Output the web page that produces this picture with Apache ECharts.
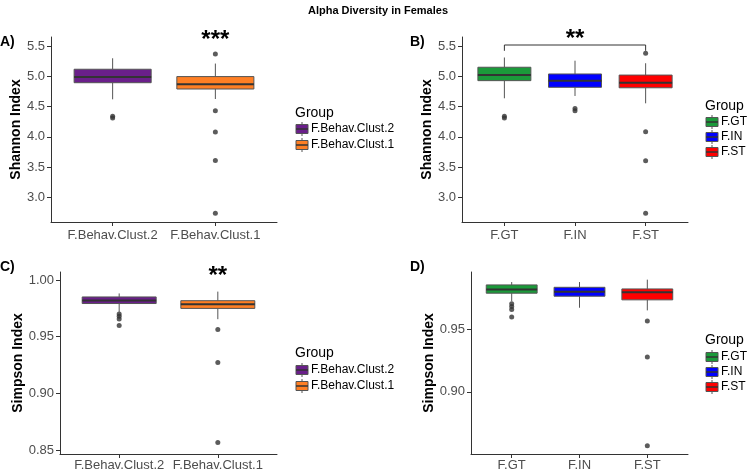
<!DOCTYPE html>
<html>
<head>
<meta charset="utf-8">
<script src="https://cdn.jsdelivr.net/npm/echarts@6/dist/echarts.min.js"></script>
<style>
  html, body { margin: 0; padding: 0; background: #fff; }
  #main { width: 750px; height: 472px; }
</style>
</head>
<body>
<div id="main"></div>
<script>
const chartTitle = 'Alpha Diversity in Females';
const clustGroups = ['F.Behav.Clust.2', 'F.Behav.Clust.1'];
const siteGroups = ['F.GT', 'F.IN', 'F.ST'];
const clustColors = ['#6a1f8a', '#ff7f24'];
const siteColors = ['#1b9a3a', '#0000ff', '#ff0000'];

// box stats: [lower whisker, Q1, median, Q3, upper whisker]
const shannonClustBox = [
  [4.62, 4.894, 4.99, 5.116, 5.297],
  [4.625, 4.79, 4.87, 4.995, 5.21]
];
const shannonClustOutliers = [
  [4.34, 4.31],
  [5.368, 4.43, 4.08, 3.61, 2.74]
];
const shannonSiteBox = [
  [4.637, 4.928, 5.02, 5.149, 5.31],
  [4.675, 4.818, 4.928, 5.038, 5.257],
  [4.554, 4.81, 4.894, 5.02, 5.215]
];
const shannonSiteOutliers = [
  [4.34, 4.31],
  [4.47, 4.43],
  [5.38, 4.086, 3.607, 2.74]
];
const simpsonClustBox = [
  [0.972, 0.9793, 0.982, 0.9851, 0.9882],
  [0.9655, 0.975, 0.9786, 0.9818, 0.9898]
];
const simpsonClustOutliers = [
  [0.970, 0.968, 0.9657, 0.960],
  [0.9565, 0.9274, 0.8567]
];
const simpsonSiteBox = [
  [0.9723, 0.9787, 0.9816, 0.9853, 0.9876],
  [0.9671, 0.9763, 0.9798, 0.9834, 0.9876],
  [0.965, 0.9734, 0.9795, 0.9821, 0.9895]
];
const simpsonSiteOutliers = [
  [0.9703, 0.968, 0.9658, 0.9597],
  [],
  [0.9566, 0.9279, 0.8571]
];

const shannonTicks = [3.0, 3.5, 4.0, 4.5, 5.0, 5.5];
const simpsonClustTicks = [0.85, 0.90, 0.95, 1.00];
const simpsonSiteTicks = [0.90, 0.95];

const FONT = '"Liberation Sans", Arial, sans-serif';
const AXIS_COLOR = '#333';

let chart = echarts.init(document.getElementById('main'));

function boxRender(colors) {
  return function (params, api) {
    const x = api.value(0);
    const half = api.size([0.75, 0])[0] / 2;
    const lo = api.coord([x, api.value(1)]);
    const q1 = api.coord([x, api.value(2)]);
    const med = api.coord([x, api.value(3)]);
    const q3 = api.coord([x, api.value(4)]);
    const hi = api.coord([x, api.value(5)]);
    const stroke = {stroke: '#555', lineWidth: 1};
    return {
      type: 'group',
      children: [
        {type: 'line', shape: {x1: hi[0], y1: hi[1], x2: q3[0], y2: q3[1]}, style: stroke},
        {type: 'line', shape: {x1: q1[0], y1: q1[1], x2: lo[0], y2: lo[1]}, style: stroke},
        {type: 'rect', shape: {x: q3[0] - half, y: q3[1], width: half * 2, height: q1[1] - q3[1]},
          style: {fill: colors[params.dataIndex], stroke: '#555', lineWidth: 1}},
        {type: 'line', shape: {x1: med[0] - half, y1: med[1], x2: med[0] + half, y2: med[1]},
          style: {stroke: '#333', lineWidth: 2}}
      ]
    };
  };
}

function annotRender(labels) {
  return function (params, api) {
    const x1 = api.value(0), x2 = api.value(1), yb = api.value(2), yt = api.value(3);
    const children = [];
    const mid = api.coord([(x1 + x2) / 2, yt]);
    if (x1 !== x2) {
      const a = api.coord([x1, yb]);
      const b = api.coord([x2, yb]);
      const top = api.coord([x1, api.value(4)]);
      children.push({type: 'polyline', shape: {points: [[a[0], a[1]], [a[0], top[1]], [b[0], top[1]], [b[0], b[1]]]},
        style: {stroke: '#333', lineWidth: 1, fill: null}});
    }
    children.push({type: 'text', style: {text: labels[params.dataIndex], x: mid[0], y: mid[1],
      align: 'center', verticalAlign: 'middle', font: 'bold 24px ' + FONT, fill: '#000'}});
    return {type: 'group', children: children};
  };
}

const grids = [];
const xAxes = [];
const yAxes = [];
const series = [];

function addPanel(rect, cats, boxes, outliers, colors, yMin, yMax, ticks, digits, name, nameGap, labelGap, annots) {
  const i = grids.length;
  grids.push({left: rect[0], top: rect[1], width: rect[2] - rect[0], height: rect[3] - rect[1]});
  const pos = cats.map((c, k) => k + 1);
  xAxes.push({
    gridIndex: i, type: 'value', min: 0.4, max: cats.length + 0.6,
    axisLine: {show: true, lineStyle: {color: AXIS_COLOR, width: 1}},
    axisTick: {show: true, customValues: pos, length: 4, lineStyle: {color: AXIS_COLOR}},
    axisLabel: {customValues: pos, formatter: v => cats[Math.round(v) - 1], color: '#4d4d4d',
      fontSize: 13, fontFamily: FONT, margin: labelGap},
    splitLine: {show: false}
  });
  yAxes.push({
    gridIndex: i, type: 'value', min: yMin, max: yMax,
    name: name, nameLocation: 'middle', nameGap: nameGap,
    nameTextStyle: {fontWeight: 'bold', fontSize: 14, color: '#000', fontFamily: FONT},
    axisLine: {show: true, lineStyle: {color: AXIS_COLOR, width: 1}},
    axisTick: {show: true, customValues: ticks, length: 4, lineStyle: {color: AXIS_COLOR}},
    axisLabel: {customValues: ticks, formatter: v => v.toFixed(digits), color: '#4d4d4d',
      fontSize: 13, fontFamily: FONT, margin: 6},
    splitLine: {show: false}
  });
  series.push({
    type: 'custom', xAxisIndex: i, yAxisIndex: i,
    renderItem: boxRender(colors),
    data: boxes.map((b, k) => [k + 1].concat(b))
  });
  const pts = [];
  outliers.forEach((arr, k) => arr.forEach(v => pts.push([k + 1, v])));
  series.push({
    type: 'scatter', xAxisIndex: i, yAxisIndex: i, symbolSize: 5,
    itemStyle: {color: '#333'}, data: pts, z: 5
  });
  if (annots) {
    series.push({
      type: 'custom', xAxisIndex: i, yAxisIndex: i, clip: false,
      renderItem: annotRender(annots.map(a => a.label)),
      data: annots.map(a => a.value)
    });
  }
}

// annotations: [x1, x2, bracket foot, text y, bracket top]
const annotA = [{value: [2, 2, 0, 5.6, 0], label: '***'}];
const annotB = [{value: [1, 3, 5.42, 5.61, 5.516], label: '**'}];
const annotC = [{value: [2, 2, 0, 1.0035, 0], label: '**'}];

addPanel([51, 37, 277, 222], clustGroups, shannonClustBox, shannonClustOutliers, clustColors,
  2.596, 5.648, shannonTicks, 1, 'Shannon Index', 27, 7, annotA);
addPanel([462, 37, 688, 222], siteGroups, shannonSiteBox, shannonSiteOutliers, siteColors,
  2.596, 5.648, shannonTicks, 1, 'Shannon Index', 27, 7, annotB);
addPanel([60, 272, 277, 459], clustGroups, simpsonClustBox, simpsonClustOutliers, clustColors,
  0.8466, 1.0071, simpsonClustTicks, 2, 'Simpson Index', 35, 5, annotC);
addPanel([471, 272, 688, 456], siteGroups, simpsonSiteBox, simpsonSiteOutliers, siteColors,
  0.8505, 0.9956, simpsonSiteTicks, 2, 'Simpson Index', 35, 5, null);

function legendGraphic(x, yTitle, yItems, names, colors) {
  const els = [{type: 'text', style: {text: 'Group', x: x, y: yTitle, verticalAlign: 'middle',
    font: '14px ' + FONT, fill: '#000'}}];
  names.forEach((n, k) => {
    const y = yItems[k];
    els.push({type: 'line', shape: {x1: x + 7, y1: y - 7, x2: x + 7, y2: y + 7}, style: {stroke: '#555', lineWidth: 1}});
    els.push({type: 'rect', shape: {x: x + 1, y: y - 4.5, width: 12, height: 9},
      style: {fill: colors[k], stroke: '#555', lineWidth: 1}});
    els.push({type: 'line', shape: {x1: x + 1, y1: y, x2: x + 13, y2: y}, style: {stroke: '#333', lineWidth: 1.5}});
    els.push({type: 'text', style: {text: n, x: x + 16, y: y, verticalAlign: 'middle',
      font: '12px ' + FONT, fill: '#000'}});
  });
  return els;
}

function panelLabel(t, x, y) {
  return {type: 'text', style: {text: t, x: x, y: y, verticalAlign: 'middle',
    font: 'bold 14px ' + FONT, fill: '#000'}};
}

const graphics = [].concat(
  legendGraphic(295, 113, [129, 145], clustGroups, clustColors),
  legendGraphic(705, 106, [122, 137, 152], siteGroups, siteColors),
  legendGraphic(295, 353, [370, 386], clustGroups, clustColors),
  legendGraphic(705, 340, [357, 372, 387], siteGroups, siteColors),
  [panelLabel('A)', 0, 42), panelLabel('B)', 410, 42), panelLabel('C)', 0, 267), panelLabel('D)', 410, 267)],
  [{type: 'text', style: {text: chartTitle, x: 378, y: 11, align: 'center', verticalAlign: 'middle',
    font: 'bold 11px ' + FONT, fill: '#000'}}]
);

chart.setOption({
  animation: false,
  backgroundColor: '#fff',
  grid: grids,
  xAxis: xAxes,
  yAxis: yAxes,
  series: series,
  graphic: graphics
});
</script>
</body>
</html>
